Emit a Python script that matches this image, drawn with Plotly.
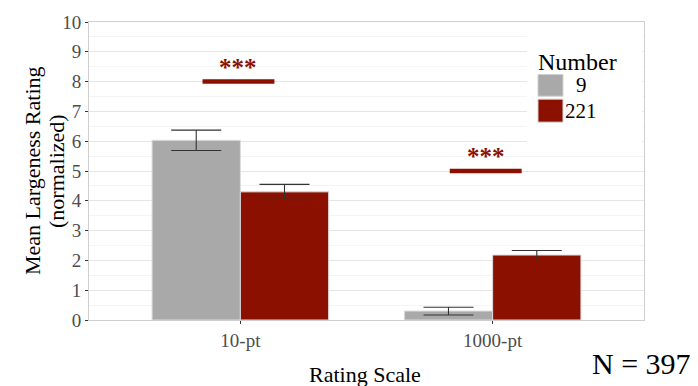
import plotly.graph_objects as go

# ---- data ----
categories = ["10-pt", "1000-pt"]
group_labels = ["9", "221"]
means_9 = [6.03, 0.30]
errs_9 = [0.34, 0.13]
means_221 = [4.30, 2.18]
errs_221 = [0.25, 0.15]
sig_labels = ["***", "***"]
sig_levels = [8.0, 5.0]
sig_left = [-0.15, 0.83]
sig_right = [0.135, 1.115]
y_ticks = list(range(0, 11))
n_text = "N = 397"

GRAY = "#A9A9A9"
RED = "#8B1000"
SERIF = "Liberation Serif, Times New Roman, serif"

fig = go.Figure()
for lab, vals, errs, col in [(group_labels[0], means_9, errs_9, GRAY),
                             (group_labels[1], means_221, errs_221, RED)]:
    fig.add_trace(go.Bar(
        x=categories, y=vals, name=lab,
        marker=dict(color=col, line=dict(color="#dcdcdc", width=1)),
        error_y=dict(type="data", array=errs, color="#333333", thickness=1.1, width=25),
        showlegend=False,
    ))

# significance bars and stars
for lab, lvl, x0, x1 in zip(sig_labels, sig_levels, sig_left, sig_right):
    fig.add_shape(type="line", xref="x", yref="y", x0=x0, x1=x1, y0=lvl, y1=lvl,
                  line=dict(color=RED, width=4.5), layer="above")
    fig.add_annotation(x=(x0 + x1) / 2, y=lvl, xref="x", yref="y", text="<b>%s</b>" % lab,
                       showarrow=False, yanchor="bottom", yshift=-1,
                       font=dict(family=SERIF, size=25, color=RED))

# manual legend (white box over the panel)
fig.add_shape(type="rect", xref="paper", yref="paper", x0=0.789, x1=0.997, y0=0.575, y1=0.997,
              fillcolor="white", line=dict(width=0), layer="above")
fig.add_annotation(x=0.805, y=0.867, xref="paper", yref="paper", text="Number", showarrow=False,
                   xanchor="left", yanchor="middle", font=dict(family=SERIF, size=24, color="black"))
sw_y = [(0.751, 0.824), (0.664, 0.741)]
for (y0, y1), lab, col in zip(sw_y, group_labels, [GRAY, RED]):
    fig.add_shape(type="rect", xref="paper", yref="paper", x0=0.809, x1=0.854, y0=y0, y1=y1,
                  fillcolor=col, line=dict(color="#d0d0d0", width=1), layer="above")
    fig.add_annotation(x=0.887, y=(y0 + y1) / 2, xref="paper", yref="paper", text=lab,
                       showarrow=False, xanchor="center", yanchor="middle",
                       font=dict(family=SERIF, size=21, color="black"))

# axis titles and N
fig.add_annotation(x=-0.1027, y=0.5, xref="paper", yref="paper", text="Mean Largeness Rating",
                   textangle=-90, showarrow=False, xanchor="center", yanchor="middle",
                   font=dict(family=SERIF, size=22, color="black"))
fig.add_annotation(x=-0.0595, y=0.5, xref="paper", yref="paper", text="(normalized)",
                   textangle=-90, showarrow=False, xanchor="center", yanchor="middle",
                   font=dict(family=SERIF, size=22, color="black"))
fig.add_annotation(x=0.497, y=-0.183, xref="paper", yref="paper", text="Rating Scale",
                   showarrow=False, xanchor="center", yanchor="middle",
                   font=dict(family=SERIF, size=22, color="black"))
fig.add_annotation(x=1.088, y=-0.146, xref="paper", yref="paper", text=n_text,
                   showarrow=False, xanchor="right", yanchor="middle",
                   font=dict(family=SERIF, size=30, color="black"))

fig.update_layout(
    width=698, height=386,
    margin=dict(l=89, r=54, t=19, b=66),
    paper_bgcolor="white", plot_bgcolor="white",
    barmode="group", bargap=0.3, bargroupgap=0,
    showlegend=False,
    font=dict(family=SERIF),
)
fig.update_xaxes(type="category", range=[-0.6, 1.6], showgrid=False,
                 showline=True, mirror=True, linecolor="#cfcfcf", linewidth=1,
                 ticks="outside", ticklen=3, tickcolor="#333333",
                 tickfont=dict(family=SERIF, size=19, color="#4d4d4d"))
fig.update_yaxes(range=[0, 10], tickvals=y_ticks, showgrid=True, gridcolor="#e6e6e6", gridwidth=1.2,
                 minor=dict(dtick=0.5, showgrid=True, gridcolor="#f4f4f4", gridwidth=1),
                 zeroline=False,
                 showline=True, mirror=True, linecolor="#cfcfcf", linewidth=1,
                 ticks="outside", ticklen=3, tickcolor="#333333",
                 tickfont=dict(family=SERIF, size=19, color="#4d4d4d"))

fig.write_html("out.html", config={"displayModeBar": False},
               post_script="document.body.style.margin='0px';document.body.style.overflow='hidden';")
